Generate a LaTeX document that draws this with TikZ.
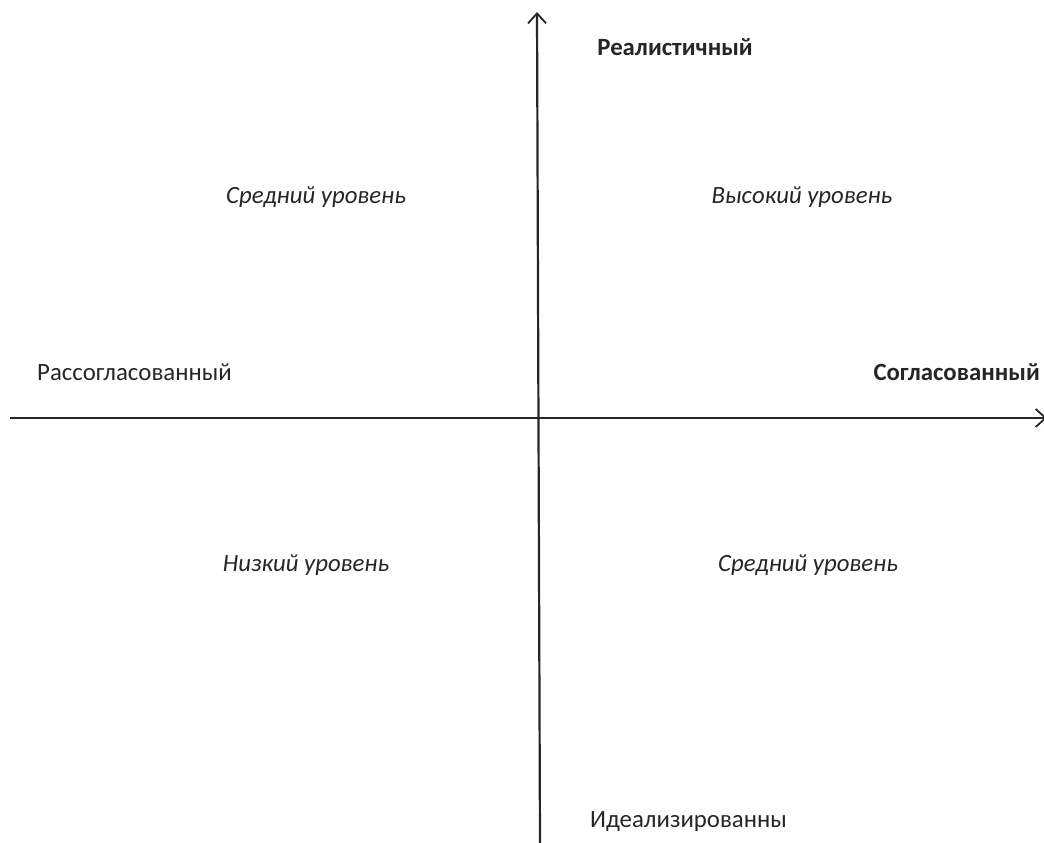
\documentclass[tikz,border=0pt]{standalone}
\usepackage{fontspec}
\setmainfont{Carlito}
\usetikzlibrary{arrows.meta}
\begin{document}
\begin{tikzpicture}[x=1pt,y=-1pt,
  axis/.style={line width=2.2pt, draw=black!85, -{Straight Barb[length=10pt,width=18pt,line width=1.8pt]}},
  lbl/.style={font=\fontsize{24.8}{29}\selectfont, text=black!85, inner sep=0pt},
  lvl/.style={lbl, font=\fontsize{24.8}{29}\selectfont\itshape},
  blbl/.style={lbl, font=\fontsize{24.8}{29}\selectfont\bfseries}]
\useasboundingbox (0,0) rectangle (1044,843);
\coordinate (vb) at (540,843);
\coordinate (vt) at (537,12);
\coordinate (hl) at (10,418);
\coordinate (hr) at (1047,418);
\draw[axis] (vb) -- (vt);
\draw[axis] (hl) -- (hr);
\node[blbl] (real) at (675,47) {Реалистичный};
\node[lvl] (mid1) at (316,197) {Средний уровень};
\node[lvl] (high) at (802,197) {Высокий уровень};
\node[lbl, anchor=west] (rass) at (37,372) {Рассогласованный};
\node[blbl, anchor=east] (sogl) at (1040,372) {Согласованный};
\node[lvl] (low) at (306,565) {Низкий уровень};
\node[lvl] (mid2) at (808,565) {Средний уровень};
\node[lbl, anchor=west] (ideal) at (590,822) {Идеализированны};
\end{tikzpicture}
\end{document}
